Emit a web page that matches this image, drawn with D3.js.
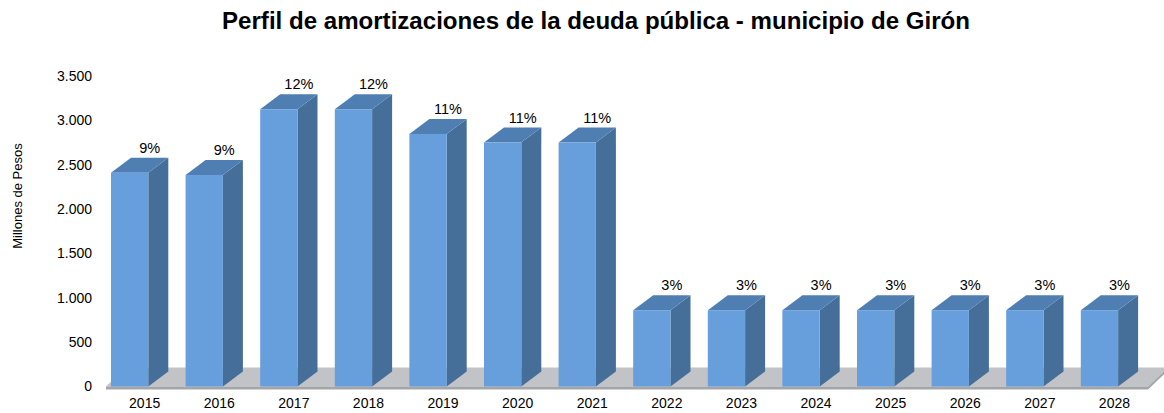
<!DOCTYPE html>
<html>
<head>
<meta charset="utf-8">
<script src="https://cdn.jsdelivr.net/npm/d3@7"></script>
<style>
  html, body { margin: 0; padding: 0; background: #ffffff; }
  svg { display: block; }
  text { font-family: "Liberation Sans", Arial, sans-serif; fill: #000; }
</style>
</head>
<body>
<svg id="chart" width="1164" height="413"></svg>
<script>
// ---- data ----
const title = "Perfil de amortizaciones de la deuda pública - municipio de Girón";
const yAxisTitle = "Millones de Pesos";
const years = ["2015","2016","2017","2018","2019","2020","2021","2022","2023","2024","2025","2026","2027","2028"];
const amortizations = [2410, 2385, 3125, 3125, 2847, 2750, 2750, 860, 860, 860, 860, 860, 860, 860];
const shareLabels = ["9%","9%","12%","12%","11%","11%","11%","3%","3%","3%","3%","3%","3%","3%"];
const yTicks = [0, 500, 1000, 1500, 2000, 2500, 3000, 3500];

// ---- layout ----
const W = 1164, H = 413;
const svg = d3.select("#chart");
const colors = { front: "#679edc", side: "#456e99", top: "#4f7eb2", floor: "#c1c3c6", floorEdge: "#a3a5a8" };
const depthX = 20, depthY = -15;      // bar depth offset
const floorDX = 20, floorDY = -19;    // floor depth offset

const x = d3.scaleBand().domain(years).range([92.35, 92.35 + 14 * 74.6]).paddingInner(0.5).paddingOuter(0.25);
const y = d3.scaleLinear().domain([0, 3500]).range([386.5, 76]);

const locale = d3.formatLocale({ decimal: ",", thousands: ".", grouping: [3], currency: ["$", ""] });
const fmt = locale.format(",");

// title
const t = svg.append("text").attr("x", 596).attr("y", 29).attr("text-anchor", "middle")
  .style("font-weight", "bold").style("font-size", "20px").text(title);
const tl = t.node().getComputedTextLength();
t.style("font-size", (20 * 748 / tl).toFixed(2) + "px");

// y axis title
svg.append("text").attr("transform", "translate(22,196) rotate(-90)").attr("text-anchor", "middle")
  .style("font-size", "13px").text(yAxisTitle);

// y axis
const yAxis = svg.append("g").attr("transform", "translate(100,0)")
  .call(d3.axisLeft(y).tickValues(yTicks).tickFormat(fmt).tickSize(0).tickPadding(8));
yAxis.select(".domain").remove();
yAxis.selectAll("text").style("font-size", "14px").style("font-family", "'Liberation Sans', Arial, sans-serif").attr("fill", "#000");

// floor
const y0 = y(0);
const fx0 = 106, fx1 = 1148;
svg.append("polygon").attr("fill", colors.floor)
  .attr("points", [[fx0, y0], [fx1, y0], [fx1 + floorDX, y0 + floorDY], [fx0 + floorDX, y0 + floorDY]].map(p => p.join(",")).join(" "));
svg.append("polygon").attr("fill", colors.floorEdge)
  .attr("points", [[fx0, y0], [fx1, y0], [fx1 + floorDX, y0 + floorDY], [fx1 + floorDX, y0 + floorDY + 3], [fx1, y0 + 3], [fx0, y0 + 3]].map(p => p.join(",")).join(" "));

// bars
const bw = x.bandwidth();
const bars = svg.append("g").selectAll("g").data(years.map((yr, i) => ({ yr, v: amortizations[i], lab: shareLabels[i] })))
  .join("g");

bars.append("polygon").attr("fill", colors.side)
  .attr("points", d => {
    const xr = x(d.yr) + bw, yt = y(d.v);
    return [[xr, yt], [xr + depthX, yt + depthY], [xr + depthX, y0 + depthY], [xr, y0]].map(p => p.join(",")).join(" ");
  });
bars.append("polygon").attr("fill", colors.top)
  .attr("points", d => {
    const xl = x(d.yr), yt = y(d.v);
    return [[xl, yt], [xl + depthX, yt + depthY], [xl + bw + depthX, yt + depthY], [xl + bw, yt]].map(p => p.join(",")).join(" ");
  });
bars.append("rect").attr("fill", colors.front)
  .attr("x", d => x(d.yr)).attr("y", d => y(d.v))
  .attr("width", bw).attr("height", d => y0 - y(d.v));

// value labels
bars.append("text").attr("text-anchor", "middle").style("font-size", "14.5px")
  .attr("x", d => x(d.yr) + bw / 2 + 20)
  .attr("y", d => y(d.v) + depthY - 5)
  .text(d => d.lab);

// x axis labels
const xAxis = svg.append("g").attr("transform", `translate(15,${y0})`)
  .call(d3.axisBottom(x).tickSize(0).tickPadding(12));
xAxis.select(".domain").remove();
xAxis.selectAll("text").style("font-size", "14px").style("font-family", "'Liberation Sans', Arial, sans-serif").attr("fill", "#000");
</script>
</body>
</html>
